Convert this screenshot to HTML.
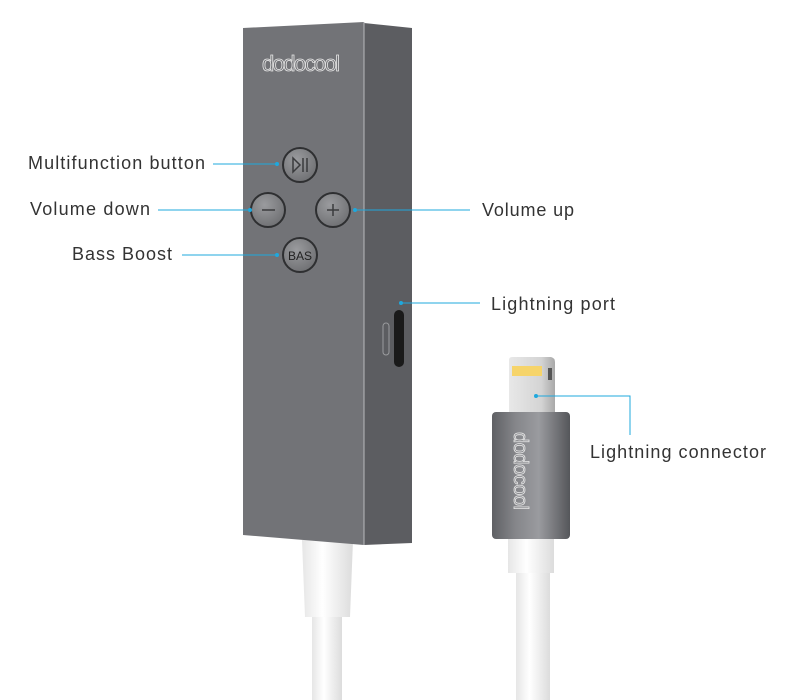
<!DOCTYPE html>
<html><head><meta charset="utf-8"><style>
html,body{margin:0;padding:0;background:#fff;width:805px;height:700px;overflow:hidden}
text{font-family:"Liberation Sans",sans-serif;fill:#333}
</style></head><body>
<svg width="805" height="700" viewBox="0 0 805 700" xmlns="http://www.w3.org/2000/svg">
<defs>
<linearGradient id="cab" x1="0" x2="1"><stop offset="0" stop-color="#e6e6e6"/><stop offset="0.4" stop-color="#ffffff"/><stop offset="1" stop-color="#dcdcdc"/></linearGradient>
<linearGradient id="hous" x1="0" x2="1"><stop offset="0" stop-color="#5f6064"/><stop offset="0.3" stop-color="#85868a"/><stop offset="0.6" stop-color="#9a9b9f"/><stop offset="1" stop-color="#55565a"/></linearGradient>
<linearGradient id="tip" x1="0" x2="1"><stop offset="0" stop-color="#e8e8e8"/><stop offset="0.7" stop-color="#d4d4d4"/><stop offset="1" stop-color="#a8a8a8"/></linearGradient>
<radialGradient id="btn" cx="0.4" cy="0.35" r="0.7"><stop offset="0" stop-color="#9a9b9e"/><stop offset="1" stop-color="#6e6f72"/></radialGradient>
</defs>
<rect x="312" y="610" width="30" height="90" fill="url(#cab)"/>
<path d="M302 540 L353 540 L350 617 L305 617 Z" fill="url(#cab)"/>
<path d="M364 23 L412 28 L412 543 L364 545 Z" fill="#5c5d61"/>
<path d="M243 28 L364 22 L364 545 L243 535 Z" fill="#727377"/>
<line x1="364" y1="22" x2="364" y2="545" stroke="#b8b9bc" stroke-width="1"/>
<text x="262" y="71" font-size="22" style="fill:none;stroke:#e6e6e6;stroke-width:0.8" textLength="78">dodocool</text>
<g stroke="#2e2f31" stroke-width="2">
<circle cx="300" cy="165" r="17" fill="url(#btn)"/>
<circle cx="268" cy="210" r="17" fill="url(#btn)"/>
<circle cx="333" cy="210" r="17" fill="url(#btn)"/>
<circle cx="300" cy="255" r="17" fill="url(#btn)"/>
</g>
<g stroke="#3a3b3d" stroke-width="1.5" fill="none">
<path d="M293 158 L300 165 L293 172 Z"/><line x1="303" y1="158" x2="303" y2="172"/><line x1="307" y1="158" x2="307" y2="172"/>
<line x1="262" y1="210" x2="275" y2="210"/>
<line x1="327" y1="210" x2="339" y2="210"/><line x1="333" y1="204" x2="333" y2="216"/>
</g>
<text x="300" y="260" font-size="12" text-anchor="middle" style="fill:#222">BAS</text>
<rect x="394" y="310" width="10" height="57" rx="5" fill="#1a1a1a"/>
<rect x="383" y="323" width="6" height="32" rx="3" fill="none" stroke="#9a9b9e"/>
<rect x="516" y="565" width="34" height="135" fill="url(#cab)"/>
<rect x="508" y="535" width="46" height="38" fill="url(#cab)"/>
<path d="M509 360 Q509 357 512 357 L551 357 Q555 358 555 362 L555 414 L509 414 Z" fill="url(#tip)"/>
<rect x="512" y="366" width="30" height="10" fill="#f6d46a"/>
<rect x="548" y="368" width="4" height="12" fill="#555"/>
<rect x="492" y="412" width="78" height="127" rx="4" fill="url(#hous)"/>
<text transform="translate(514,432) rotate(90)" font-size="20" style="fill:none;stroke:#e6e6e6;stroke-width:0.8" textLength="78">dodocool</text>
<g stroke="#1fa8dd" stroke-width="1" fill="none">
<line x1="213" y1="164" x2="277" y2="164"/>
<line x1="158" y1="210" x2="250" y2="210"/>
<line x1="182" y1="255" x2="277" y2="255"/>
<line x1="355" y1="210" x2="470" y2="210"/>
<line x1="401" y1="303" x2="480" y2="303"/>
<polyline points="536,396 630,396 630,435"/>
</g>
<g fill="#1fa8dd">
<circle cx="277" cy="164" r="2"/><circle cx="250" cy="210" r="2"/><circle cx="277" cy="255" r="2"/>
<circle cx="355" cy="210" r="2"/><circle cx="401" cy="303" r="2"/><circle cx="536" cy="396" r="2"/>
</g>
<g font-size="18">
<text x="28" y="169" textLength="177">Multifunction button</text>
<text x="30" y="215" textLength="120">Volume down</text>
<text x="72" y="260" textLength="100">Bass Boost</text>
<text x="482" y="216" textLength="92">Volume up</text>
<text x="491" y="310" textLength="124">Lightning port</text>
<text x="590" y="458" textLength="176">Lightning connector</text>
</g>
</svg>
</body></html>
